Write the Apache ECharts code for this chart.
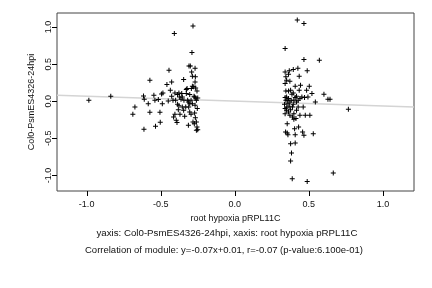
<!DOCTYPE html>
<html><head><meta charset="utf-8">
<script src="https://cdn.jsdelivr.net/npm/echarts@6/dist/echarts.min.js"></script>
<style>html,body{margin:0;padding:0;background:#fff}#c{width:432px;height:288px}</style>
</head><body><div id="c"></div>
<script>
const xTicks = [-1.0, -0.5, 0.0, 0.5, 1.0];
const yTicks = [-1.0, -0.5, 0.0, 0.5, 1.0];
const xLabel = "root hypoxia pRPL11C";
const yLabel = "Col0-PsmES4326-24hpi";
const subtitle1 = "yaxis: Col0-PsmES4326-24hpi, xaxis: root hypoxia pRPL11C";
const subtitle2 = "Correlation of module: y=-0.07x+0.01, r=-0.07 (p-value:6.100e-01)";
const fitLine = [[-1.2, 0.081], [1.21, -0.077]];
const leftPoints = [
[-0.985,0.014],[-0.837,0.068],[-0.688,-0.176],[-0.674,-0.077],[-0.616,0.072],[-0.611,0.027],
[-0.613,-0.378],[-0.584,-0.032],[-0.573,0.284],[-0.573,-0.149],[-0.546,0.081],[-0.539,0.014],
[-0.535,-0.338],[-0.516,0.023],[-0.503,-0.284],[-0.505,-0.149],[-0.494,0.099],[-0.489,-0.032],
[-0.485,0.113],[-0.458,0.225],[-0.449,0.005],[-0.444,0.419],[-0.435,0.149],[-0.426,0.261],
[-0.426,0.068],[-0.417,0.014],[-0.413,-0.212],[-0.408,0.914],[-0.404,0.113],[-0.404,-0.176],
[-0.395,-0.257],[-0.390,-0.288],[-0.386,0.090],[-0.386,-0.041],[-0.381,-0.113],[-0.377,0.113],
[-0.377,-0.059],[-0.370,-0.176],[-0.363,0.027],[-0.358,0.104],[-0.354,0.059],[-0.345,0.293],
[-0.343,0.014],[-0.338,-0.203],[-0.331,-0.077],[-0.327,0.104],[-0.322,0.171],[-0.318,0.014],
[-0.313,-0.324],[-0.311,-0.077],[-0.309,0.477],[-0.304,0.090],[-0.304,-0.144],[-0.300,0.477],
[-0.295,-0.176],[-0.295,0.014],[-0.291,0.396],[-0.289,0.658],[-0.286,0.338],[-0.286,0.203],
[-0.286,-0.032],[-0.282,1.014],[-0.282,-0.279],[-0.277,0.194],[-0.275,0.068],[-0.273,-0.302],
[-0.271,-0.158],[-0.268,0.446],[-0.268,0.261],[-0.266,0.329],[-0.264,0.180],[-0.264,0.045],
[-0.259,0.014],[-0.259,-0.392],[-0.255,0.140],[-0.255,-0.347],[-0.253,-0.099],[-0.250,0.045],
[-0.327,0.158],[-0.313,-0.009],[-0.354,-0.077],[-0.345,-0.122],[-0.304,-0.032],[-0.268,-0.054],
[-0.259,-0.279],[-0.250,-0.383],[-0.266,-0.221],[-0.293,0.171],[-0.271,0.059],[-0.372,0.059],
[-0.399,0.014]
];
const rightPoints = [
[0.340,0.712],[0.340,0.396],[0.345,0.329],[0.350,0.284],[0.340,0.239],[0.345,0.140],
[0.340,0.050],[0.336,-0.041],[0.340,-0.099],[0.340,-0.167],[0.343,-0.414],[0.354,-0.428],
[0.359,-0.450],[0.354,-0.302],[0.363,0.365],[0.368,0.410],[0.372,0.270],[0.377,-0.806],
[0.377,-0.572],[0.383,-0.698],[0.388,-1.045],[0.390,-0.212],[0.395,0.428],[0.399,-0.243],
[0.404,-0.369],[0.408,-0.563],[0.408,-0.450],[0.408,0.203],[0.413,-0.234],[0.417,-0.009],
[0.422,1.095],[0.426,0.446],[0.431,-0.347],[0.435,0.338],[0.435,0.149],[0.440,-0.189],
[0.444,0.216],[0.453,0.059],[0.458,-0.414],[0.462,-0.077],[0.467,1.050],[0.467,0.563],
[0.471,0.050],[0.467,-0.459],[0.476,-0.189],[0.485,0.149],[0.489,0.410],[0.489,-1.081],
[0.494,0.059],[0.503,0.203],[0.507,-0.189],[0.521,0.104],[0.530,-0.437],[0.544,-0.009],
[0.571,0.554],[0.602,0.095],[0.629,0.027],[0.643,0.027],[0.665,-0.968],[0.767,-0.108],
[0.350,0.059],[0.354,0.014],[0.363,0.036],[0.372,-0.009],[0.381,0.014],[0.359,-0.032],
[0.368,-0.068],[0.350,-0.086],[0.377,-0.113],[0.363,-0.144],[0.390,-0.077],[0.399,0.014],
[0.408,0.050],[0.417,0.068],[0.428,0.014],[0.395,0.113],[0.377,0.149],[0.363,0.140],
[0.386,0.095],[0.350,-0.122],[0.399,-0.167],[0.372,-0.189],[0.417,-0.122],[0.428,-0.077],
[0.440,0.036],[0.345,0.014],[0.395,-0.041]
];

const X_MIN = -1.2, X_MAX = 1.21, Y_MIN = -1.21, Y_MAX = 1.19;
const font = "'Liberation Sans', Arial, sans-serif";
const plus = 'path://M2,0H3V2H5V3H3V5H2V3H0V2H2Z';
const TICK_LEN = 5;
const chart = echarts.init(document.getElementById('c'), null, {renderer: 'canvas'});
chart.setOption({
  animation: false,
  backgroundColor: '#fff',
  grid: {left: 57, right: 18, top: 13, bottom: 97, show: true, borderColor: '#444', borderWidth: 1, backgroundColor: 'transparent'},
  xAxis: {
    type: 'value', min: X_MIN, max: X_MAX, position: 'bottom',
    name: xLabel, nameLocation: 'middle', nameGap: 21,
    nameTextStyle: {fontFamily: font, fontSize: 9, color: '#111'},
    axisLine: {show: false, onZero: false},
    splitLine: {show: false},
    axisTick: {show: false},
    axisLabel: {customValues: xTicks, fontFamily: font, fontSize: 9, color: '#111', margin: 9,
      formatter: v => v.toFixed(1)}
  },
  yAxis: {
    type: 'value', min: Y_MIN, max: Y_MAX, position: 'left',
    name: yLabel, nameLocation: 'middle', nameGap: 16,
    nameTextStyle: {fontFamily: font, fontSize: 9, color: '#111'},
    axisLine: {show: false, onZero: false},
    splitLine: {show: false},
    axisTick: {show: false},
    axisLabel: {customValues: yTicks, rotate: 90, fontFamily: font, fontSize: 9, color: '#111', margin: 4,
      formatter: v => v.toFixed(1)}
  },
  series: [
    {type: 'line', data: fitLine, symbol: 'none', lineStyle: {color: '#d4d4d4', width: 1.5}, z: 1, silent: true},
    {type: 'scatter', data: leftPoints.concat(rightPoints), symbol: plus, symbolSize: 5,
      itemStyle: {color: '#000', opacity: 1}, z: 2},
    {type: 'custom', clip: false, silent: true, z: 3,
      encode: {x: 0, y: 1},
      data: xTicks.map(v => [v, Y_MIN]),
      renderItem: (params, api) => {
        const p = api.coord([api.value(0), api.value(1)]);
        const x = Math.round(p[0]) + 0.5;
        return {type: 'line', shape: {x1: x, y1: p[1], x2: x, y2: p[1] + TICK_LEN},
          style: {stroke: '#000', lineWidth: 1, fill: null}};
      }},
    {type: 'custom', clip: false, silent: true, z: 3,
      encode: {x: 0, y: 1},
      data: yTicks.map(v => [X_MIN, v]),
      renderItem: (params, api) => {
        const p = api.coord([api.value(0), api.value(1)]);
        const y = Math.round(p[1]) + 0.5;
        return {type: 'line', shape: {x1: p[0], y1: y, x2: p[0] - TICK_LEN, y2: y},
          style: {stroke: '#000', lineWidth: 1, fill: null}};
      }}
  ],
  graphic: [
    {type: 'text', x: 227, y: 228, style: {text: subtitle1, font: '9.7px ' + font, fill: '#111', textAlign: 'center'}},
    {type: 'text', x: 224, y: 245, style: {text: subtitle2, font: '9.5px ' + font, fill: '#111', textAlign: 'center'}}
  ]
});
</script></body></html>
